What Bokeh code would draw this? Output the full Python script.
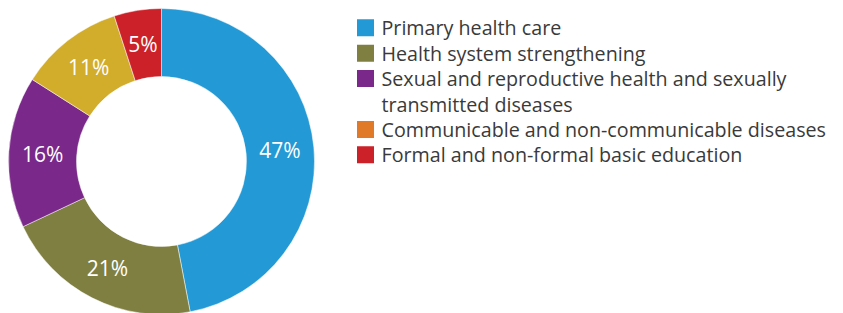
import math
from bokeh.plotting import figure
from bokeh.models import Range1d, ColumnDataSource
from bokeh.core.properties import value
from bokeh.embed import file_html
from bokeh.resources import INLINE

# ---- data ----
categories = [
    "Primary health care",
    "Health system strengthening",
    "Sexual and reproductive health and sexually transmitted diseases",
    "Communicable and non-communicable diseases",
    "Formal and non-formal basic education",
]
legend_lines = [
    ["Primary health care"],
    ["Health system strengthening"],
    ["Sexual and reproductive health and sexually", "transmitted diseases"],
    ["Communicable and non-communicable diseases"],
    ["Formal and non-formal basic education"],
]
shares = [47, 21, 16, 11, 5]
pie_colors = ["#2399d5", "#7f7f41", "#7a2889", "#d2ac2b", "#cc2128"]
legend_colors = ["#2399d5", "#7f7f41", "#7a2889", "#e07a28", "#cc2128"]

# ---- layout ----
W, H = 843, 313
OFF = 1
p = figure(width=W, height=H, output_backend="svg", toolbar_location=None,
           x_range=Range1d(0, W), y_range=Range1d(0, H), min_border=0)
p.axis.visible = False
p.grid.visible = False
p.outline_line_color = None
p.background_fill_color = "white"

def px(page_x):
    return page_x - OFF

def py(page_y):
    return H - (page_y - OFF)

cx, cy = px(162), py(162)
r_out, r_in = 153, 85

total = sum(shares)
starts, ends, mids = [], [], []
acc = 0.0
for s in shares:
    a0 = math.pi / 2 - 2 * math.pi * acc / total
    acc += s
    a1 = math.pi / 2 - 2 * math.pi * acc / total
    starts.append(a1)
    ends.append(a0)
    mids.append((a0 + a1) / 2)

src = ColumnDataSource(dict(start=starts, end=ends, color=pie_colors))
p.annular_wedge(x=cx, y=cy, inner_radius=r_in, outer_radius=r_out,
                start_angle="start", end_angle="end", fill_color="color",
                line_color="white", line_width=0.5, source=src)

r_lab = (r_in + r_out) / 2
lab = ColumnDataSource(dict(
    x=[cx + r_lab * math.cos(m) for m in mids],
    y=[cy + r_lab * math.sin(m) for m in mids],
    t=[f"{s}%" for s in shares]))
p.text(x="x", y="y", text="t", source=lab, text_align="center",
       text_baseline="middle", text_color="white",
       text_font=value("Open Sans"), text_font_size="21px")

# ---- legend ----
sq_x, tx_x = px(366), px(382)
line0, step = 28.3, 25.4
k = 0
sq = dict(x=[], y=[], c=[])
tx = dict(x=[], y=[], t=[])
for lines, col in zip(legend_lines, legend_colors):
    sq["x"].append(sq_x)
    sq["y"].append(py(line0 + k * step))
    sq["c"].append(col)
    for ln in lines:
        tx["x"].append(tx_x)
        tx["y"].append(py(line0 + k * step))
        tx["t"].append(ln)
        k += 1
p.rect(x="x", y="y", width=17, height=17, fill_color="c", line_color=None,
       source=ColumnDataSource(sq))
p.text(x="x", y="y", text="t", source=ColumnDataSource(tx), text_align="left",
       text_baseline="middle", text_color="#3a3a3a",
       text_font=value("Open Sans"), text_font_size="19.7px")

open("out.html", "w").write(file_html(p, INLINE))
